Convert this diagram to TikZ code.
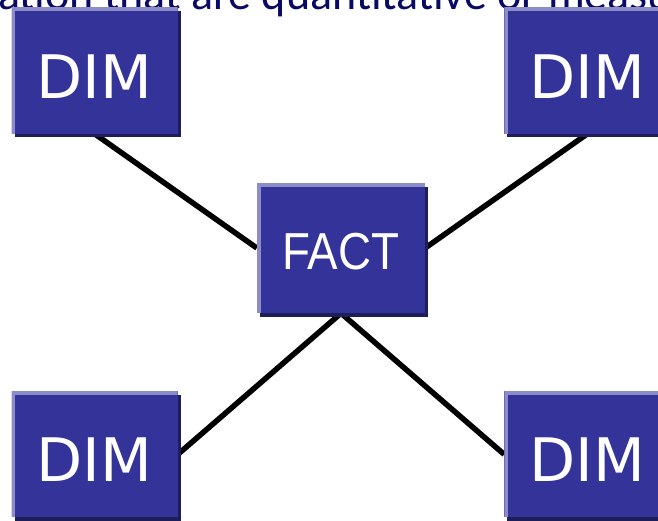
\documentclass[tikz,border=0pt]{standalone}
\usepackage{fontspec}
\usetikzlibrary{positioning,shadows,backgrounds}
\newfontfamily\dimfont{DejaVu Sans}
\newfontfamily\factfont{Liberation Sans}
\newfontfamily\headfont{Carlito}
\definecolor{boxblue}{RGB}{51,51,153}
\definecolor{shadeblue}{RGB}{30,30,90}
\definecolor{edgeblue}{RGB}{140,140,200}
\definecolor{headblue}{RGB}{10,10,100}
\tikzset{
  table/.style={rectangle, fill=boxblue, text=white, inner sep=0pt,
    drop shadow={shadow xshift=3pt, shadow yshift=-3.5pt, fill=shadeblue, opacity=1},
    path picture={\draw[edgeblue, line width=7pt]
      (path picture bounding box.south west) -- (path picture bounding box.north west)
      -- (path picture bounding box.north east);}},
  dim/.style={table, minimum width=166pt, minimum height=126pt, text height=55pt,
    font=\dimfont\fontsize{60}{60}\selectfont},
  fact/.style={table, minimum width=168pt, minimum height=130pt, text height=44pt,
    font=\factfont\fontsize{52}{52}\selectfont},
  link/.style={line width=5.5pt, black}
}

\begin{document}
\begin{tikzpicture}[x=1pt, y=1pt]
\useasboundingbox (0,0) rectangle (658,-520);
% Nodes
\node(H)[anchor=base west, inner sep=0pt, text=headblue,
  font=\headfont\fontsize{46}{46}\selectfont] at (-2,-9){ation that are quantitative or measu};
\node(F)[fact] at (341,-248){\scalebox{0.88}[1]{FACT}};
\node(D1)[dim, above left = 49pt and 79pt of F]{DIM};
\node(D2)[dim, above right = 49pt and 79pt of F]{DIM};
\node(D3)[dim, below left = 78pt and 79pt of F]{DIM};
\node(D4)[dim, below right = 78pt and 79pt of F]{DIM};
% Arcs
\begin{scope}[on background layer]
\draw[link] (D1.south) -- (F.west);
\draw[link] (D2.south) -- (F.east);
\draw[link] (F.south) -- (D3.east);
\draw[link] (F.south) -- (D4.west);
\end{scope}
\end{tikzpicture}
\end{document}
